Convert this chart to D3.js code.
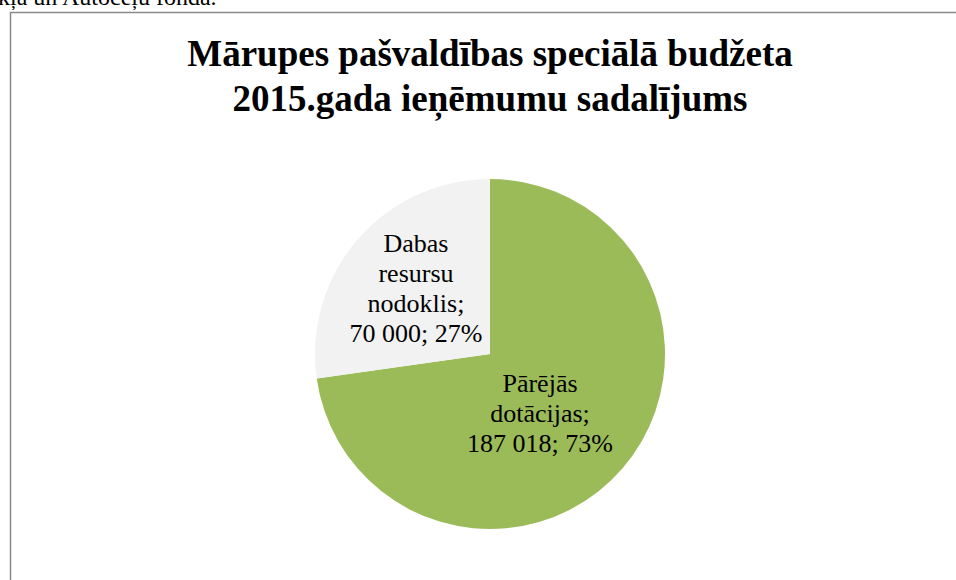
<!DOCTYPE html>
<html>
<head>
<meta charset="utf-8">
<script src="https://cdn.jsdelivr.net/npm/d3@7"></script>
<style>
body { margin: 0; background: #fff; }
svg { display: block; font-family: "Liberation Serif", "Times New Roman", serif; }
</style>
</head>
<body>
<div id="chart"></div>
<script>
// data
var categories = ["Pārējās dotācijas", "Dabas resursu nodoklis"]
var values = [187018, 70000]
var percents = ["73%", "27%"]
var labelLines = [["Pārējās", "dotācijas;"], ["Dabas", "resursu", "nodoklis;"]]
var titleLines = ["Mārupes pašvaldības speciālā budžeta", "2015.gada ieņēmumu sadalījums"]
var colors = ["#9bbb59", "#f2f2f2"]

var width = 956, height = 580
var cx = 490, cy = 354, radius = 175

var svg = d3.select("#chart").append("svg")
    .attr("width", width)
    .attr("height", height)

// text of the document above the chart, cut off by the page edge
svg.append("text")
    .attr("x", -2)
    .attr("y", 5)
    .style("font-size", "24px")
    .text("kļa un Autoceļu fonda.")

// chart frame
svg.append("rect")
    .attr("x", 10.5)
    .attr("y", 12.5)
    .attr("width", 1000)
    .attr("height", 700)
    .attr("fill", "#fff")
    .attr("stroke", "#8a8a8a")
    .attr("stroke-width", 1.5)

// title
svg.append("g").selectAll("text")
    .data(titleLines)
    .enter().append("text")
    .attr("x", 490)
    .attr("y", (d, i) => 66 + i * 45)
    .attr("text-anchor", "middle")
    .style("font-size", "37px")
    .style("font-weight", "bold")
    .text(d => d)

var fmt = d3.formatLocale({ decimal: ",", thousands: " ", grouping: [3], currency: ["", ""] }).format(",d")

var pie = d3.pie().sort(null).value(d => d)
var arc = d3.arc().innerRadius(0).outerRadius(radius)
var arcs = pie(values)

var g = svg.append("g").attr("transform", "translate(" + cx + "," + cy + ")")
g.selectAll("path")
    .data(arcs)
    .enter().append("path")
    .attr("d", arc)
    .attr("fill", (d, i) => colors[i])

// labels
var labelPos = [[50, 38], [-74, -102]]
arcs.forEach(function(d, i) {
    var lines = labelLines[i].concat([fmt(values[i]) + "; " + percents[i]])
    g.append("g").selectAll("text")
        .data(lines)
        .enter().append("text")
        .attr("x", labelPos[i][0])
        .attr("y", (t, j) => labelPos[i][1] + j * 30)
        .attr("text-anchor", "middle")
        .style("font-size", "26px")
        .text(t => t)
})
</script>
</body>
</html>
